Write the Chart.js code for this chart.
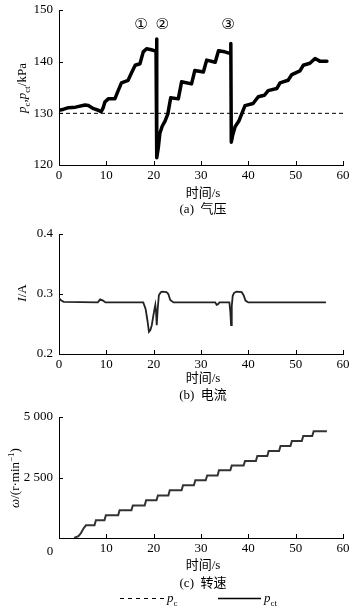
<!DOCTYPE html>
<html><head><meta charset="utf-8">
<script src="https://cdn.jsdelivr.net/npm/chart.js@4/dist/chart.umd.min.js"></script>
<style>
html,body{margin:0;padding:0;background:#fff;}
#wrap{position:relative;width:356px;height:613px;overflow:hidden;font-family:"Liberation Serif","Noto Sans CJK SC",serif;color:#000;}
canvas{position:absolute;left:0;}
.t{position:absolute;transform:translate(-50%,-50%);white-space:nowrap;font-size:13px;line-height:14px;}
.r{position:absolute;transform:translate(-50%,-50%) rotate(-90deg);white-space:nowrap;font-size:13px;line-height:14px;}
sub,sup{font-size:9px;line-height:0;}
</style></head><body>
<div id="wrap">
<canvas id="ca" width="356" height="194" style="top:-4px"></canvas>
<canvas id="cb" width="356" height="165" style="top:215px"></canvas>
<canvas id="cc" width="356" height="165" style="top:400px"></canvas>
<div class="r" style="left:22px;top:88px"><i>p</i><sub>c</sub>,<i>p</i><sub>ct</sub>/kPa</div>
<div class="r" style="left:22px;top:293px"><i>I</i>/A</div>
<div class="r" style="left:15px;top:478px"><i>ω</i>/(r·min<sup>−1</sup>)</div>
<div class="t" style="left:203px;top:193px">时间/s</div>
<div class="t" style="left:203px;top:209px">(a)&nbsp;&nbsp;气压</div>
<div class="t" style="left:203px;top:378px">时间/s</div>
<div class="t" style="left:203px;top:395px">(b)&nbsp;&nbsp;电流</div>
<div class="t" style="left:203px;top:565px">时间/s</div>
<div class="t" style="left:203px;top:583px">(c)&nbsp;&nbsp;转速</div>
<svg style="position:absolute;left:120px;top:593px" width="46" height="10"><line x1="0" y1="5.5" x2="46" y2="5.5" stroke="#000" stroke-width="1.2" stroke-dasharray="4,4"/></svg>
<div style="position:absolute;left:167px;top:591px;font-size:13px;line-height:14px"><i>p</i><sub>c</sub></div>
<svg style="position:absolute;left:218px;top:593px" width="43" height="10"><line x1="0" y1="5.5" x2="43" y2="5.5" stroke="#000" stroke-width="1.4"/></svg>
<div style="position:absolute;left:264px;top:591px;font-size:13px;line-height:14px"><i>p</i><sub>ct</sub></div>
</div>
<script>
// ---- data ----
const xTicks = [0, 10, 20, 30, 40, 50, 60];
const pressureTicks = [120, 130, 140, 150];
const currentTicks = [0.2, 0.3, 0.4];
const speedTicks = [0, 2500, 5000];

const pcSetpoint = 130;           // p_c (dashed reference)
const pcTime = [0, 60];

const pctTime = [0, 1, 2, 3.5, 5.5, 6.2, 7.3, 8.3, 8.9, 9.3, 9.7, 10.4, 11.8, 12.5, 13.2, 14.6, 15.4, 16.1, 17.1, 17.8, 18.5, 19.5, 20.3, 20.5, 20.6, 20.7, 21.0, 21.3, 21.8, 22.4, 23.0, 23.3, 23.6, 25.2, 25.9, 28.0, 28.7, 30.5, 31.2, 33.0, 33.7, 35.0, 36.1, 36.2, 36.3, 36.4, 36.7, 37.2, 38.0, 38.6, 39.3, 41.0, 42.1, 43.4, 44.2, 46.0, 46.7, 48.4, 49.2, 50.9, 51.6, 53.0, 54.1, 55.1, 56.6];
const pctValue = [130.6, 130.8, 131.1, 131.2, 131.6, 131.5, 130.9, 130.6, 130.3, 131.0, 132.2, 132.8, 132.8, 134.4, 135.9, 136.4, 138.0, 139.3, 139.6, 141.9, 142.5, 142.3, 142.1, 142.2, 144.4, 121.4, 123.5, 126.1, 127.5, 128.5, 129.9, 131.5, 133.0, 132.8, 136.1, 135.7, 138.3, 138.0, 140.3, 139.9, 142.1, 141.9, 141.6, 141.8, 143.5, 124.4, 125.8, 127.4, 128.5, 129.9, 131.5, 131.9, 133.2, 133.5, 134.4, 134.8, 135.9, 136.4, 137.5, 138.2, 139.3, 139.7, 140.6, 140.1, 140.1];

const currentTime = [0, 0.5, 1, 8.2, 8.7, 9.3, 9.8, 17.8, 18.3, 18.7, 19.0, 19.3, 19.6, 20.1, 20.35, 20.5, 20.65, 20.85, 21.1, 21.5, 21.8, 22.7, 23.1, 23.5, 24.2, 33.0, 33.3, 33.6, 33.9, 36.0, 36.2, 36.35, 36.5, 36.7, 37.0, 37.5, 38.6, 39.0, 39.4, 40.0, 56.4];
const currentValue = [0.293, 0.289, 0.287, 0.286, 0.291, 0.289, 0.286, 0.286, 0.275, 0.255, 0.237, 0.240, 0.248, 0.272, 0.282, 0.270, 0.248, 0.275, 0.298, 0.303, 0.304, 0.303, 0.300, 0.290, 0.286, 0.286, 0.282, 0.283, 0.286, 0.286, 0.270, 0.248, 0.280, 0.297, 0.302, 0.304, 0.303, 0.298, 0.289, 0.286, 0.286];

const speedTime = [3.2, 4.1, 4.6, 5.2, 5.7, 7.5, 7.8, 9.6, 9.9, 12.5, 12.8, 15.3, 15.6, 18.1, 18.4, 20.6, 20.9, 23.1, 23.4, 25.9, 26.2, 28.5, 28.8, 31.0, 31.3, 33.5, 33.8, 36.2, 36.5, 39.0, 39.3, 41.6, 41.9, 44.0, 44.3, 46.5, 46.8, 48.9, 49.2, 51.3, 51.6, 53.5, 53.8, 56.6];
const speedValue = [0, 80, 190, 400, 525, 525, 732, 732, 939, 939, 1145, 1145, 1340, 1340, 1559, 1559, 1753, 1753, 1972, 1972, 2179, 2179, 2386, 2386, 2580, 2580, 2799, 2799, 2994, 2994, 3184, 3184, 3391, 3391, 3597, 3597, 3804, 3804, 4011, 4011, 4218, 4218, 4412, 4412];

const markLabels = ['①', '②', '③'];
const markTime = [17.3, 21.8, 35.7];
const markLevel = 147;

// ---- helpers ----
const zip = (xs, ys) => xs.map((x, i) => ({x, y: ys[i]}));
const FONT = {family: '"Liberation Serif", "Times New Roman", serif', size: 13};

const inwardTicks = {
  id: 'inwardTicks',
  afterDraw(chart) {
    const {ctx, chartArea: a, scales: {x, y}} = chart;
    ctx.save();
    ctx.strokeStyle = '#000'; ctx.lineWidth = 1;
    ctx.beginPath();
    x.ticks.forEach(t => { const px = Math.round(x.getPixelForValue(t.value)) + 0.5; ctx.moveTo(px, a.bottom); ctx.lineTo(px, a.bottom - 4); });
    y.ticks.forEach(t => { const py = Math.round(y.getPixelForValue(t.value)) + 0.5; ctx.moveTo(a.left, py); ctx.lineTo(a.left + 4, py); });
    ctx.stroke();
    ctx.restore();
  }
};

function scalesFor(yMin, yMax, yStep, yFmt, xHeight, xFmt) {
  return {
    x: {
      type: 'linear', min: 0, max: 60,
      afterBuildTicks: s => { s.ticks = xTicks.map(v => ({value: v})); },
      ticks: {color: '#000', font: FONT, padding: 3, maxRotation: 0, callback: xFmt || (v => String(v))},
      grid: {display: false, drawTicks: false},
      border: {display: true, color: '#000', width: 1},
      afterFit: s => { s.height = xHeight; }
    },
    y: {
      type: 'linear', min: yMin, max: yMax,
      ticks: {color: '#000', font: FONT, padding: 6, stepSize: yStep, callback: yFmt},
      grid: {display: false, drawTicks: false},
      border: {display: true, color: '#000', width: 1},
      afterFit: s => { s.width = 59; }
    }
  };
}

const common = {
  responsive: false, animation: false, devicePixelRatio: 1,
  plugins: {legend: {display: false}, tooltip: {enabled: false}},
  elements: {point: {radius: 0}, line: {tension: 0}}
};

// (a) pressure
const marksPlugin = {
  id: 'marks',
  afterDraw(chart) {
    const {ctx, scales: {x, y}} = chart;
    ctx.save();
    ctx.fillStyle = '#000';
    ctx.font = '15px "DejaVu Sans", "Noto Sans CJK SC", sans-serif';
    ctx.textAlign = 'center'; ctx.textBaseline = 'middle';
    markLabels.forEach((m, i) => ctx.fillText(m, x.getPixelForValue(markTime[i]), y.getPixelForValue(markLevel)));
    ctx.restore();
  }
};

new Chart(document.getElementById('ca'), {
  type: 'line',
  data: {datasets: [
    {data: zip(pcTime, pcTime.map(() => pcSetpoint)), borderColor: '#000', borderWidth: 1, borderDash: [4, 3]},
    {data: zip(pctTime, pctValue), borderColor: '#000', borderWidth: 3.5, borderJoinStyle: 'round', borderCapStyle: 'round'}
  ]},
  options: Object.assign({}, common, {
    layout: {padding: {top: 14, right: 13, left: 0, bottom: 0}},
    scales: scalesFor(120, 150, 10, v => String(v), 25)
  }),
  plugins: [inwardTicks, marksPlugin]
});

// (b) current
new Chart(document.getElementById('cb'), {
  type: 'line',
  data: {datasets: [
    {data: zip(currentTime, currentValue), borderColor: '#222', borderWidth: 1.8}
  ]},
  options: Object.assign({}, common, {
    layout: {padding: {top: 19, right: 13, left: 0, bottom: 0}},
    scales: scalesFor(0.2, 0.4, 0.1, v => Number(v).toFixed(1), 26)
  }),
  plugins: [inwardTicks]
});

// (c) speed
const zeroLabel = {
  id: 'zeroLabel',
  afterDraw(chart) {
    const {ctx, scales: {x}, chartArea: a} = chart;
    ctx.save();
    ctx.fillStyle = '#000';
    ctx.font = '13px "Liberation Serif", serif';
    ctx.textAlign = 'center'; ctx.textBaseline = 'middle';
    ctx.fillText('0', x.getPixelForValue(0) - 9, a.bottom + 14);
    ctx.restore();
  }
};
new Chart(document.getElementById('cc'), {
  type: 'line',
  data: {datasets: [
    {data: zip(speedTime, speedValue), borderColor: '#333', borderWidth: 2}
  ]},
  options: Object.assign({}, common, {
    layout: {padding: {top: 17, right: 13, left: 0, bottom: 0}},
    scales: scalesFor(0, 5000, 2500, v => v === 0 ? '' : String(v).replace(/\B(?=(\d{3})+(?!\d))/g, ' '), 27, v => v === 0 ? '' : String(v))
  }),
  plugins: [inwardTicks, zeroLabel]
});
</script>
</body></html>
